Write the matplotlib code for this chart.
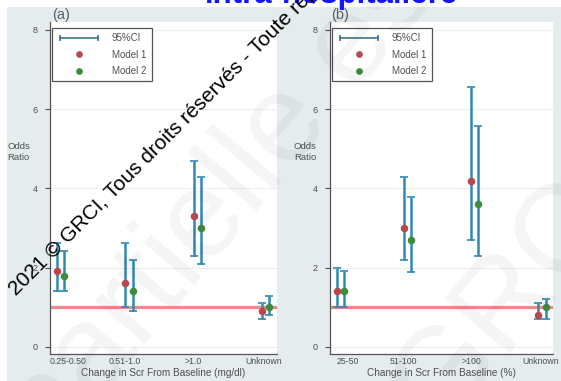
import matplotlib.pyplot as plt
import numpy as np
from matplotlib.lines import Line2D
from matplotlib.legend_handler import HandlerLine2D
from matplotlib.patches import Rectangle

plt.rcParams['font.family'] = ['Liberation Sans', 'DejaVu Sans']

# (a) change in serum creatinine, absolute (mg/dl)
labels_a = ["0.25-0.50", "0.51-1.0", ">1.0", "Unknown"]
or1_a = [1.91, 1.60, 3.30, 0.91]
lo1_a = [1.41, 1.00, 2.29, 0.70]
hi1_a = [2.62, 2.62, 4.68, 1.10]
or2_a = [1.79, 1.41, 2.99, 1.00]
lo2_a = [1.41, 0.91, 2.09, 0.80]
hi2_a = [2.42, 2.19, 4.28, 1.28]

# (b) change in serum creatinine, relative (%)
labels_b = ["25-50", "51-100", ">100", "Unknown"]
or1_b = [1.41, 2.99, 4.18, 0.80]
lo1_b = [1.00, 2.19, 2.69, 0.70]
hi1_b = [1.99, 4.28, 6.57, 1.10]
or2_b = [1.41, 2.69, 3.60, 1.00]
lo2_b = [1.00, 1.89, 2.29, 0.70]
hi2_b = [1.91, 3.78, 5.58, 1.20]

W, H = 561, 381
RED = '#b8474f'
GREEN = '#3c8c3c'
CI = '#3189b3'
CAP = '#2d5f7c'
TXT = '#505050'

fig = plt.figure(figsize=(W / 100, H / 100), dpi=100)
fig.patch.set_facecolor('white')
fig.add_artist(Rectangle((7 / W, 0), 1, 1 - 7 / H, transform=fig.transFigure,
                         facecolor='#e4ecee', edgecolor='none', zorder=-5))


def px_axes(l, t, r, b):
    return fig.add_axes([l / W, 1 - b / H, (r - l) / W, (b - t) / H])


def panel(ax, labels, or1, lo1, hi1, or2, lo2, hi2, xlabel):
    x = np.arange(len(labels))
    ax.set_facecolor('white')
    ax.axhline(1, color='#f08a8a', lw=2.3, zorder=1)
    for xs, orv, lo, hi, col in ((x, or1, lo1, hi1, RED),
                                 (x + 0.11, or2, lo2, hi2, GREEN)):
        orv, lo, hi = np.array(orv), np.array(lo), np.array(hi)
        eb = ax.errorbar(xs, orv, yerr=[orv - lo, hi - orv], fmt='none',
                         ecolor=CI, elinewidth=1.8, capsize=2.6, capthick=1.2,
                         zorder=2)
        for cap in eb[1]:
            cap.set_color(CAP)
        ax.plot(xs, orv, 'o', color=col, ms=4.4, mec=col, zorder=3)

    ax.set_xlim(-0.1, 3.22)
    ax.set_ylim(-0.18, 8.2)
    ax.set_yticks([0, 2, 4, 6, 8])
    ax.yaxis.grid(True, color='#eeeeee', lw=0.8)
    ax.set_axisbelow(True)
    ax.set_xticks(x + np.array([0.17, 0, 0, 0.03]))
    ax.set_xticklabels(labels)
    ax.tick_params(axis='y', length=3.6, width=0.8, color=TXT, pad=5.5,
                   labelsize=6.5, labelcolor=TXT)
    ax.tick_params(axis='x', length=0, pad=2.5, labelsize=6.3, labelcolor=TXT)
    for s in ('top', 'right'):
        ax.spines[s].set_visible(False)
    for s in ('left', 'bottom'):
        ax.spines[s].set_color('#555555')
        ax.spines[s].set_linewidth(0.9)
    ax.set_xlabel(xlabel, fontsize=7.2, color=TXT, labelpad=1.0)

    ci_h = Line2D([], [], color='#3f7391', lw=1.2, marker='|', ms=5, mew=1.2)
    m1_h = Line2D([], [], ls='none', marker='o', color=RED, ms=3.8)
    m2_h = Line2D([], [], ls='none', marker='o', color=GREEN, ms=3.8)
    leg = ax.legend([ci_h, m1_h, m2_h], ['95%CI', 'Model 1', 'Model 2'],
                    loc='upper left', bbox_to_anchor=(0.009, 0.982),
                    borderaxespad=0,
                    handler_map={ci_h: HandlerLine2D(numpoints=2)},
                    fontsize=7, handlelength=4.5, handletextpad=1.1,
                    borderpad=0.55, labelspacing=0.65, fancybox=False,
                    framealpha=1, edgecolor='#555555')
    leg.get_frame().set_linewidth(0.9)
    for t in leg.get_texts():
        t.set_color(TXT)


ax_a = px_axes(50, 22, 277, 354)
panel(ax_a, labels_a, or1_a, lo1_a, hi1_a, or2_a, lo2_a, hi2_a,
      "Change in Scr From Baseline (mg/dl)")
ax_b = px_axes(330, 22, 553, 354)
panel(ax_b, labels_b, or1_b, lo1_b, hi1_b, or2_b, lo2_b, hi2_b,
      "Change in Scr From Baseline (%)")

for xp, tag in ((52, '(a)'), (331, '(b)')):
    fig.text(xp / W, 1 - 15 / H, tag, fontsize=10.5, color='#5a6070', va='center')
for xp in (7, 294):
    fig.text(xp / W, 1 - 152 / H, "Odds\nRatio", fontsize=6.8, color=TXT,
             va='center', ha='left', linespacing=1.25)

# title, mostly cut off by the top edge
fig.text(332 / W, 1 - 3 / H, "intra-hospitalière", fontsize=22.5,
         fontweight='bold', color='#1414ff', ha='center', va='baseline')

# copyright watermark
fig.text(16 / W, 1 - 296 / H,
         "2021 © GRCI, Tous droits réservés - Toute reproduction même partielle est interdite",
         fontsize=15, color='black', rotation=45, rotation_mode='anchor',
         ha='left', va='baseline', zorder=10)
fig.text(51 / W, 1 - 456 / H, "partielle est", fontsize=90, color='black',
         alpha=0.045, rotation=50, rotation_mode='anchor', ha='left',
         va='baseline', zorder=9)
fig.text(440 / W, 1 - 430 / H, "GRCI", fontsize=90, color='black',
         alpha=0.045, rotation=50, rotation_mode='anchor', ha='left',
         va='baseline', zorder=9)

fig.savefig('out.png', dpi=100)
